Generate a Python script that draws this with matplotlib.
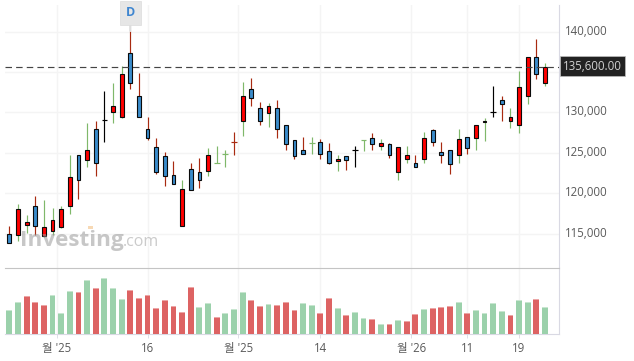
import matplotlib.pyplot as plt
from matplotlib.patches import Rectangle
from matplotlib.transforms import ScaledTranslation

plt.rcParams["font.family"] = ["Open Sans", "Noto Sans CJK KR", "DejaVu Sans"]

opens = [115000, 114800, 116100, 118400, 114700, 115300, 115800, 118400, 124700, 124100,
         128000, 129100, 130000, 129400, 137400, 132100, 128000, 125700, 124600, 122300,
         115900, 123000, 122600, 122800, 123700, 124800, 126300, 128900, 132900, 130600,
         129900, 130500, 128400, 126600, 125400, 126200, 126400, 125200, 124000, 124600,
         125300, 126600, 126800, 125800, 126100, 122600, 124200, 123700, 124200, 127800,
         125100, 125300, 124700, 127000, 126900, 128800, 130100, 131600, 128900, 128400,
         132000, 136900, 133700]
closes = [113800, 118000, 116400, 116000, 115800, 116700, 118000, 122000, 121600, 125300,
          123700, 129100, 130800, 134800, 133600, 129500, 126800, 122600, 122200, 121200,
          120500, 120400, 121700, 124700, 123710, 124810, 126290, 132100, 131800, 128900,
          130800, 127900, 126100, 124600, 124800, 126210, 124900, 123700, 124300, 124100,
          125300, 126610, 126100, 126200, 124700, 125700, 124700, 123300, 126800, 126400,
          124700, 123600, 126700, 125600, 128500, 129000, 130100, 131000, 129500, 133200,
          136900, 134800, 135600]
highs = [116000, 118700, 117300, 119700, 119200, 118200, 118400, 124700, 124700, 128700,
         128900, 132700, 133600, 135800, 140100, 134900, 129400, 126800, 125100, 124000,
         121600, 123700, 124400, 125600, 125900, 125400, 127600, 133800, 134300, 131300,
         131200, 131500, 128400, 126600, 127000, 127000, 126700, 126200, 124700, 124600,
         125900, 126600, 127400, 126700, 126200, 125700, 125900, 124700, 127600, 127900,
         126300, 125300, 128000, 127000, 128500, 129300, 133300, 132000, 130600, 135100,
         136900, 139100, 136100]
lows = [113800, 114100, 115100, 114800, 114600, 114800, 115700, 117400, 119300, 123200,
        122200, 126300, 128700, 129300, 132900, 129500, 126600, 122400, 120900, 121200,
        115900, 120400, 120600, 122200, 123700, 123300, 124700, 127100, 130800, 128400,
        128200, 126800, 125300, 124200, 124800, 124800, 124200, 123600, 122800, 122900,
        123300, 125200, 125400, 125400, 124400, 121600, 123700, 123200, 123700, 125900,
        123700, 122400, 123700, 124800, 125400, 126500, 129500, 129000, 128100, 127400,
        131000, 134200, 133300]

volumes = [71, 95, 114, 95, 86, 117, 62, 129, 125, 162, 137, 168, 137, 104, 132, 107,
           117, 77, 101, 83, 65, 140, 80, 92, 50, 62, 74, 125, 101, 83, 89, 86, 95,
           71, 92, 86, 62, 107, 77, 56, 65, 47, 44, 29, 29, 41, 38, 59, 74, 77, 80,
           83, 95, 62, 71, 62, 92, 68, 56, 101, 95, 104, 80]
volume_up = [1, 1, 0, 0, 0, 1, 1, 1, 0, 1, 0, 1, 1, 1, 0, 0, 0, 0, 0, 0, 0, 0, 1, 1,
             0, 1, 1, 1, 0, 0, 1, 0, 0, 0, 1, 1, 0, 0, 1, 0, 1, 1, 0, 1, 0, 1, 0, 0,
             1, 0, 0, 0, 1, 0, 1, 1, 1, 1, 0, 1, 1, 0, 1]

price_ticks = [115000, 120000, 125000, 130000, 135000, 140000]
price_labels = ["115,000", "120,000", "125,000", "130,000", "", "140,000"]
date_ticks = [5.5, 16, 26.5, 36, 46.5, 53, 59]
date_labels = ["월 '25", "16", "월 '25", "14", "월 '26", "11", "19"]
last_price = 135600

W = 634
H = 361
GRID = "#f4f4f4"
AXIS = "#d9d9e3"
TEXT = "#5a5a5a"

fig = plt.figure(figsize=(W / 100, H / 100), dpi=100, facecolor="white")
ax = fig.add_axes([5 / W, (H - 268) / H, 554 / W, 263 / H])
vol = fig.add_axes([5 / W, (H - 334) / H, 554 / W, 66 / H])

xs = list(range(len(opens)))
xlim = (-0.5, 63.62)

# candles
for i in xs:
    up = closes[i] > opens[i]
    down = closes[i] < opens[i]
    wick = "#7fb86a" if up else "#a82a10" if down else "black"
    ax.vlines(i, lows[i], highs[i], color=wick, linewidth=0.85, zorder=3)
    if abs(closes[i] - opens[i]) < 50:
        ax.hlines(opens[i], i - 0.33, i + 0.33, color=wick, linewidth=0.85, zorder=3)
    else:
        ax.bar(
            i,
            abs(closes[i] - opens[i]),
            bottom=min(opens[i], closes[i]),
            width=0.44,
            color="#ff0000" if up else "#3a8ccb",
            edgecolor="#0a0a0a",
            linewidth=0.8,
            zorder=4,
        )

ax.axhline(last_price, color="#444444", linewidth=0.85, dashes=(5.5, 3.5), zorder=5)

ax.set_xlim(xlim)
ax.set_ylim(110754, 143300)
ax.set_xticks(date_ticks)
ax.set_yticks(price_ticks)
ax.set_yticklabels(price_labels)
ax.yaxis.tick_right()
ax.tick_params(axis="y", length=0, pad=4.5, labelsize=8.3, labelcolor=TEXT)
ax.tick_params(axis="x", length=0, labelbottom=False)
for label in ax.get_yticklabels():
    label.set_transform(label.get_transform() + ScaledTranslation(0, 2 / 100, fig.dpi_scale_trans))
ax.grid(True, color=GRID, linewidth=1)
ax.set_axisbelow(True)
for side in ["top", "left", "bottom"]:
    ax.spines[side].set_visible(False)
ax.spines["right"].set_color(AXIS)

# last price label
ax.annotate(
    "135,600.00",
    xy=(1, last_price),
    xycoords=("axes fraction", "data"),
    xytext=(33.5, 1),
    textcoords="offset pixels",
    ha="center",
    va="center",
    fontsize=8.3,
    color="#d2d2d2",
    bbox=dict(boxstyle="square,pad=0.3", facecolor="#222222", edgecolor="#bdbdbd", linewidth=0.5),
    annotation_clip=False,
    zorder=6,
)

# dividend marker
ax.annotate(
    "D",
    xy=(14, highs[14]),
    xytext=(14, 142350),
    ha="center",
    va="center",
    fontsize=9,
    fontweight="bold",
    color="#3f86d0",
    bbox=dict(boxstyle="square,pad=0.45", facecolor="#e6e6e6", edgecolor="#dcdcdc", linewidth=0.5),
    arrowprops=dict(arrowstyle="-", color="#dddddd", linewidth=1.6, shrinkA=0, shrinkB=0),
    annotation_clip=False,
    zorder=6,
)

# volume
for i in xs:
    colour = "#9bd1ab" if volume_up[i] else "#dd6363"
    cap = "#c8e6d0" if volume_up[i] else "#eca6a6"
    vol.bar(i, volumes[i], width=0.68, color=colour, zorder=3)
    vol.bar(i, 3, bottom=volumes[i] - 3, width=0.68, color=cap, zorder=3)

vol.set_xlim(xlim)
vol.set_ylim(0, 198)
vol.set_yticks([])
vol.set_xticks(date_ticks)
vol.set_xticklabels(date_labels)
vol.tick_params(axis="x", length=3, width=0.6, color=AXIS, pad=3, labelsize=8.3, labelcolor=TEXT)
vol.grid(True, axis="x", color=GRID, linewidth=1)
vol.set_axisbelow(True)
vol.spines["left"].set_visible(False)
vol.spines["top"].set_color("#c4c4c4")
vol.spines["bottom"].set_color(AXIS)
vol.spines["right"].set_color(AXIS)

# watermark
fig.text(20 / W, (H - 246) / H, "Investing", fontsize=16.2, fontweight="bold",
         color="#9a9a9a", alpha=0.55, zorder=10)
fig.text(123 / W, (H - 246) / H, ".com", fontsize=11.5, color="#b5b5b5", alpha=0.7, zorder=10)
fig.add_artist(Rectangle((88 / W, (H - 229) / H), 5 / W, 3 / H, transform=fig.transFigure,
                         facecolor="#f7d9b5", edgecolor="none", zorder=11))

fig.savefig("out.png", dpi=100)
